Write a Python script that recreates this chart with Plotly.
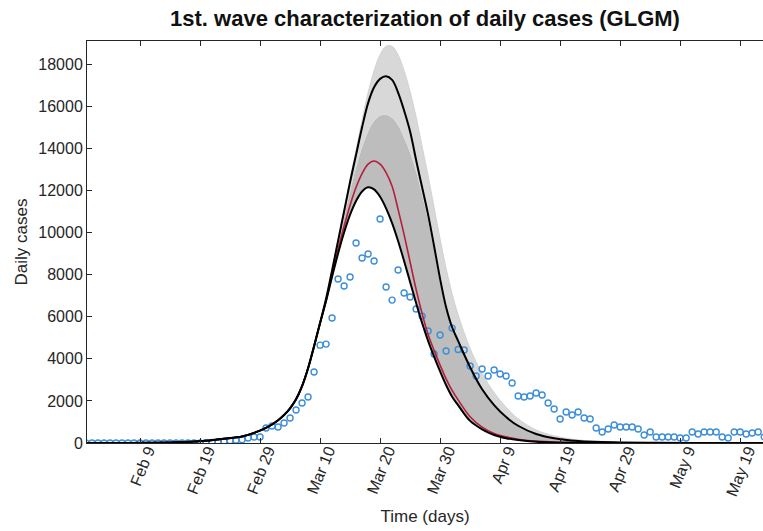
import pandas as pd
import plotly.graph_objects as go

# ---------------- data ----------------
base_date = "2020-01-31"

# observed daily cases (one value per day from Jan 31)
obs_cases = [0, 0, 0, 0, 0, 0, 0, 0, 0, 0,
             0, 0, 0, 0, 0, 0, 0, 0, 0, 5,
             20, 30, 50, 80, 110, 130, 160, 240, 285, 285,
             710, 810, 760, 950, 1190, 1570, 1900, 2185, 3370, 4650,
             4700, 5940, 7790, 7460, 7890, 9500, 8790, 8980, 8650, 10640,
             7410, 6790, 8220, 7125, 6935, 6365, 6030, 5320, 4230, 5130,
             4370, 5460, 4440, 4420, 3660, 3180, 3515, 3180, 3470, 3280,
             3180, 2850, 2230, 2185, 2230, 2375, 2280, 1900, 1615, 1140,
             1470, 1330, 1470, 1190, 1140, 710, 520, 665, 855, 760,
             760, 760, 665, 380, 520, 285, 285, 285, 285, 240,
             240, 520, 430, 520, 520, 520, 285, 240, 520, 520,
             430, 475, 520, 285]

# days (from Jan 31) at which the fitted curves were read
curve_days = [0, 5, 10, 15, 20, 23, 26, 28, 30, 31, 32, 33, 34, 35, 36, 37, 38, 39,
              40, 41, 42, 43, 44, 45, 46, 47, 48, 49,
              50, 51, 52, 53, 54, 55, 56, 57, 58, 59,
              60, 61, 62, 64, 66, 68, 70, 72, 75, 78, 82, 88, 95, 105, 113]

rise = [0, 2, 8, 30, 110, 200, 310, 480, 720, 880, 1080, 1330, 1650, 2080, 2700, 3550, 4600, 5700]

lower_fit = rise + [6750, 7900, 9000, 10000, 10850, 11500, 11950, 12150, 12050, 11700,
                    11150, 10450, 9600, 8650, 7650, 6650, 5700, 4850, 4100, 3400,
                    2750, 2200, 1800, 1050, 650, 380, 230, 140, 60, 25, 8, 2, 0, 0, 0]
median_fit = rise + [6750, 8000, 9200, 10300, 11300, 12150, 12800, 13250, 13400, 13250,
                     12850, 12200, 11100, 9900, 8600, 7300, 6150, 5150, 4400, 3700,
                     3050, 2500, 2050, 1250, 750, 450, 290, 180, 90, 40, 15, 3, 0, 0, 0]
upper_fit = rise + [6850, 8200, 9600, 11000, 12400, 13700, 15000, 16150, 16900, 17300,
                    17420, 17250, 16650, 15800, 14800, 13450, 12150, 10850, 9350, 7800,
                    6450, 5500, 4850, 3600, 2550, 1800, 1230, 820, 430, 230, 100, 30, 8, 1, 0]
dense_band_top = rise + [6800, 8100, 9400, 10700, 11950, 13100, 14050, 14800, 15300, 15550,
                         15600, 15450, 15100, 14500, 13800, 12900, 11800, 10600, 9150, 7650,
                         6350, 5400, 4780, 3550, 2500, 1770, 1200, 800, 420, 225, 98, 30, 8, 1, 0]
ensemble_top = rise + [6900, 8250, 9700, 11100, 12550, 13950, 15350, 16650, 17700, 18450,
                       18850, 18850, 18450, 17700, 16700, 15500, 14100, 12700, 11200, 9700,
                       8300, 7100, 6100, 4500, 3300, 2400, 1700, 1150, 620, 340, 150, 50, 14, 3, 0]

tick_labels = ["Feb 9", "Feb 19", "Feb 29", "Mar 10", "Mar 20", "Mar 30",
               "Apr 9", "Apr 19", "Apr 29", "May 9", "May 19"]
y_ticks = [0, 2000, 4000, 6000, 8000, 10000, 12000, 14000, 16000, 18000]

# ---------------- build ----------------
t0 = pd.Timestamp(base_date)
obs_x = [t0 + pd.Timedelta(days=i) for i in range(len(obs_cases))]
cx = [t0 + pd.Timedelta(days=d) for d in curve_days]
tickvals = list(pd.to_datetime([f"{t} 2020" for t in tick_labels], format="%b %d %Y"))

FONT = "Liberation Sans, Arial, Helvetica, sans-serif"
fig = go.Figure()

fig.add_trace(go.Scatter(x=cx, y=lower_fit, mode="lines", line=dict(width=0, shape="spline"),
                         hoverinfo="skip", showlegend=False))
fig.add_trace(go.Scatter(x=cx, y=dense_band_top, mode="lines", fill="tonexty",
                         fillcolor="#bdbdbd", line=dict(width=0, shape="spline"),
                         hoverinfo="skip", showlegend=False))
fig.add_trace(go.Scatter(x=cx, y=ensemble_top, mode="lines", fill="tonexty",
                         fillcolor="#d8d8d8", line=dict(width=0.8, color="#cdcdcd", shape="spline"),
                         hoverinfo="skip", showlegend=False))

fig.add_trace(go.Scatter(x=obs_x, y=obs_cases, mode="markers",
                         marker=dict(symbol="circle-open", size=6, color="#3d8fd8",
                                     line=dict(width=1.4, color="#3d8fd8")),
                         showlegend=False))

fig.add_trace(go.Scatter(x=cx, y=median_fit, mode="lines",
                         line=dict(color="#b51f3d", width=1.6, shape="spline"), showlegend=False))
fig.add_trace(go.Scatter(x=cx, y=lower_fit, mode="lines",
                         line=dict(color="black", width=2, shape="spline"), showlegend=False))
fig.add_trace(go.Scatter(x=cx, y=upper_fit, mode="lines",
                         line=dict(color="black", width=2, shape="spline"), showlegend=False))

fig.update_layout(
    width=763, height=531,
    margin=dict(l=87, r=0, t=41, b=88),
    paper_bgcolor="white", plot_bgcolor="white",
    font=dict(family=FONT, size=16, color="#262626"),
    title=dict(text="<b>1st. wave characterization of daily cases (GLGM)</b>",
               x=0.5, xref="paper", y=1 - 18 / 531, yref="container", yanchor="middle",
               font=dict(size=22, color="#111111")),
    showlegend=False,
)
fig.update_xaxes(
    type="date",
    range=[t0 + pd.Timedelta(hours=4), t0 + pd.Timedelta(days=112.8)],
    tickvals=tickvals, ticktext=tick_labels, tickangle=-68,
    ticks="inside", ticklen=5, tickcolor="#262626",
    ticklabelshift=8, ticklabelstandoff=-9,
    showline=True, linecolor="#262626", linewidth=1, mirror="allticks",
    showgrid=False, zeroline=False,
    title=dict(text="Time (days)", font=dict(size=17), standoff=12),
    tickfont=dict(size=16),
)
fig.update_yaxes(
    range=[0, 19100], tickvals=y_ticks, ticktext=[str(v) for v in y_ticks],
    ticks="inside", ticklen=5, tickcolor="#262626",
    showline=True, linecolor="#262626", linewidth=1, mirror=False,
    showgrid=False, zeroline=False,
    title=dict(text="Daily cases", font=dict(size=17), standoff=6),
    tickfont=dict(size=16),
)

fig.write_html("out.html")
